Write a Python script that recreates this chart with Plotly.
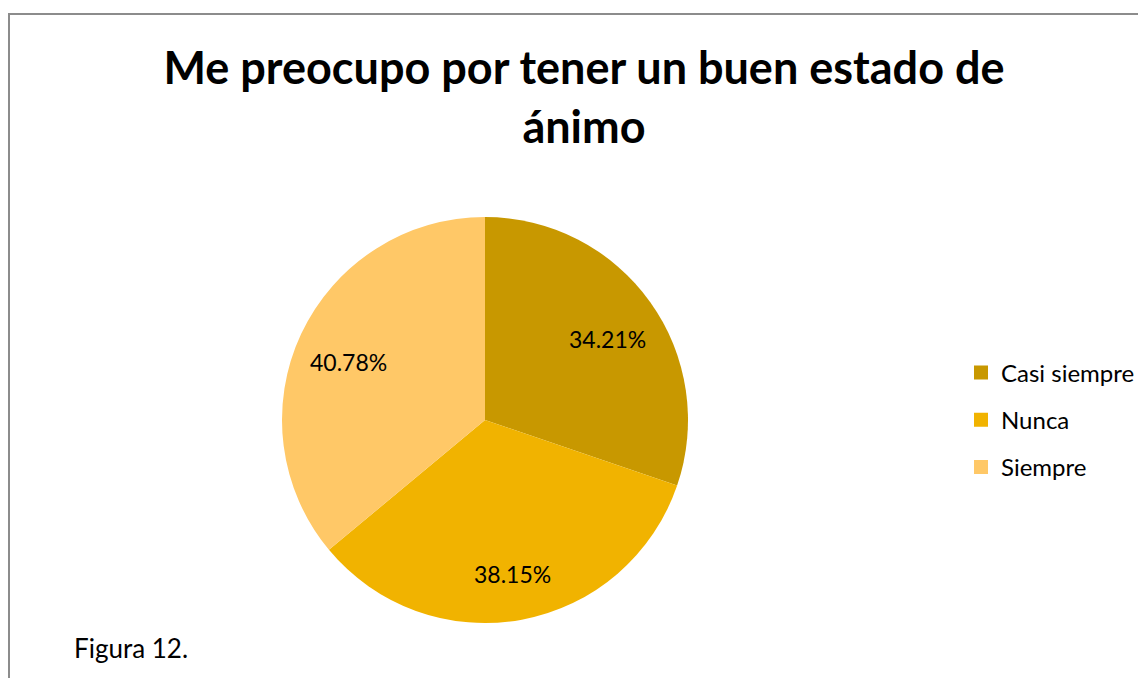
import math
import plotly.graph_objects as go

# Reference data (slice labels show the original percentages)
categories = ["Casi siempre", "Nunca", "Siempre"]
values = [34.21, 38.15, 40.78]
labels_txt = ["34.21%", "38.15%", "40.78%"]
colors = ["#C89800", "#F1B300", "#FFC867"]

# page body adds an 8px margin, so the figure is 8px smaller than the window
W, H = 1138, 670
FONT = "Lato"

CX, CY, R = 477, 412, 203   # pie centre / radius in figure pixels
LABEL_R = 0.74              # data labels sit at about 3/4 of the radius

fig = go.Figure()

fig.add_trace(go.Pie(
    labels=categories,
    values=values,
    textinfo="none",
    marker=dict(colors=colors, line=dict(width=0)),
    sort=False,
    direction="clockwise",
    rotation=0,
    showlegend=False,
    hovertext=labels_txt,
    hoverinfo="label+text",
    domain=dict(x=[(CX - R) / W, (CX + R) / W],
                y=[1 - (CY + R) / H, 1 - (CY - R) / H]),
))

# legend entries as square markers so the spacing can match
for cat, col in zip(categories, colors):
    fig.add_trace(go.Scatter(
        x=[None], y=[None], mode="markers", name=cat,
        legendgroup=cat,
        marker=dict(symbol="square", size=14, color=col),
    ))

# data labels placed on each slice's bisector
annotations = []
total = sum(values)
cum = 0.0
for v, t in zip(values, labels_txt):
    mid = (cum + v / 2) / total * 2 * math.pi
    cum += v
    px = CX + LABEL_R * R * math.sin(mid)
    py = CY - LABEL_R * R * math.cos(mid)
    annotations.append(dict(text=t, xref="paper", yref="paper",
                            x=px / W, y=1 - py / H, xanchor="center", yanchor="middle",
                            yshift=-6, showarrow=False,
                            font=dict(family=FONT, size=23, color="#000000")))

annotations.append(dict(text="Figura 12.", xref="paper", yref="paper",
                        x=64 / W, y=1 - 640 / H, xanchor="left", yanchor="middle",
                        showarrow=False, font=dict(family=FONT, size=26, color="#000000")))

fig.update_layout(
    width=W, height=H,
    margin=dict(l=0, r=0, t=0, b=0),
    paper_bgcolor="white",
    plot_bgcolor="white",
    font=dict(family=FONT, color="#000000"),
    xaxis=dict(visible=False),
    yaxis=dict(visible=False),
    title=dict(
        text="<b>Me preocupo por tener un buen estado de<br>ánimo</b>",
        x=576 / W, xanchor="center", y=1 - 76 / H, yanchor="middle",
        font=dict(family=FONT, size=45, color="#000000"),
    ),
    legend=dict(
        x=953 / W, xanchor="left", y=1 - 412 / H, yanchor="middle",
        font=dict(family=FONT, size=24, color="#000000"),
        tracegroupgap=13, itemwidth=30,
        bgcolor="rgba(0,0,0,0)",
    ),
    shapes=[dict(type="rect", xref="paper", yref="paper",
                 x0=1 / W, x1=1.05, y0=-0.05, y1=1 - 6 / H,
                 line=dict(color="#8C8C8C", width=2))],
    annotations=annotations,
)

fig.write_html("out.html")
